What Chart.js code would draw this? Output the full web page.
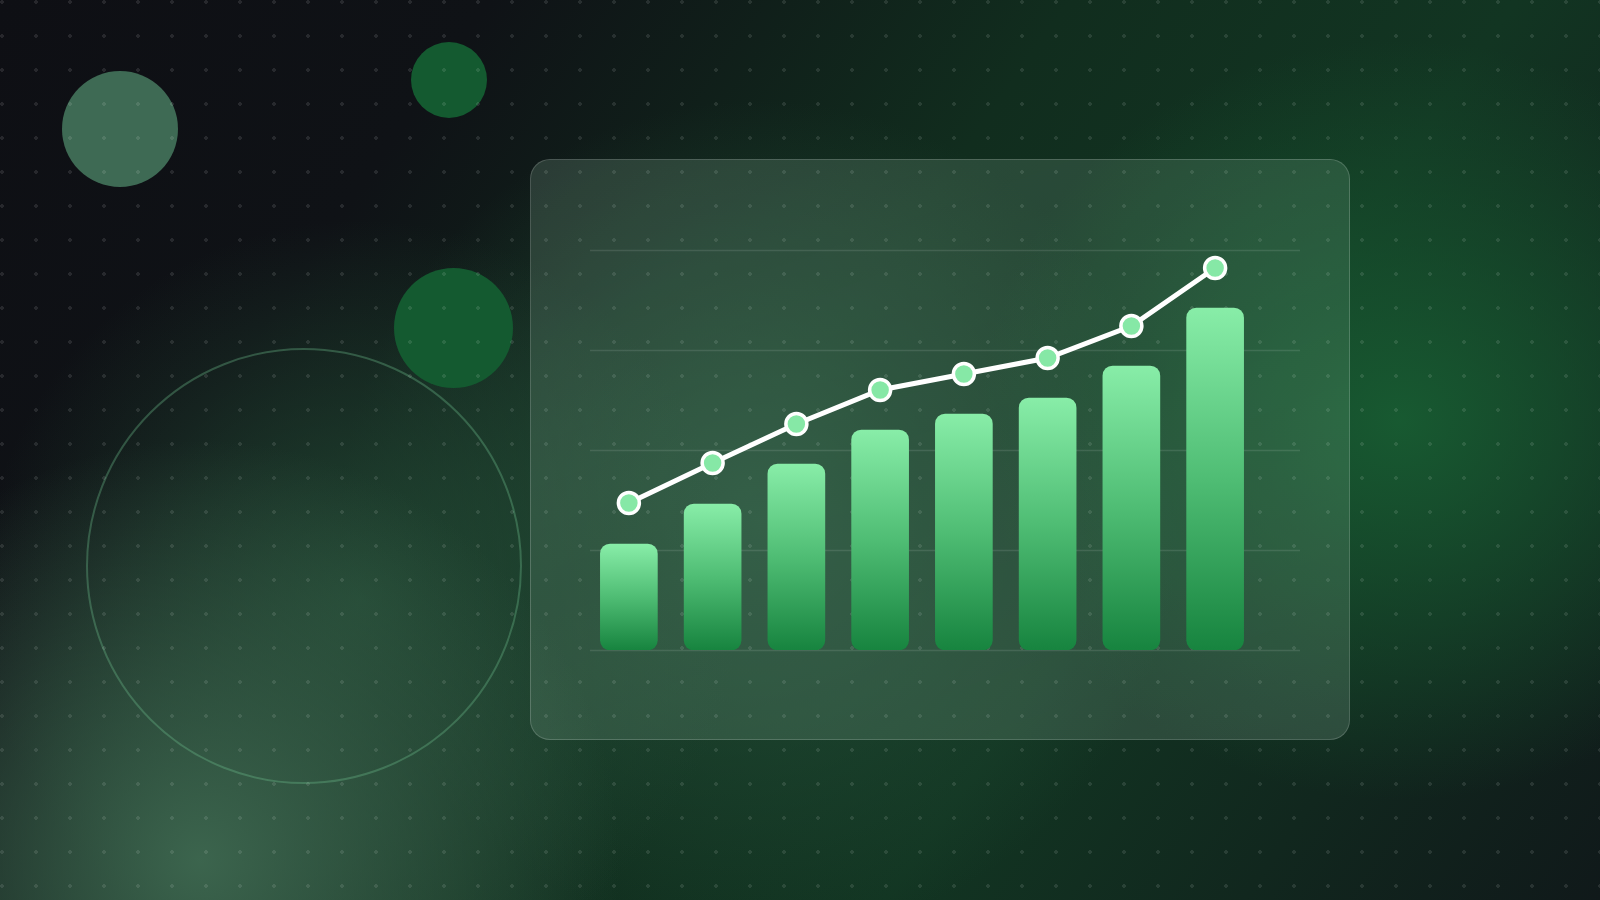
<!DOCTYPE html>
<html>
<head>
<meta charset="utf-8">
<script src="https://cdn.jsdelivr.net/npm/chart.js@4.4.1/dist/chart.umd.min.js"></script>
<style>
    html, body { margin: 0; padding: 0; }
    body {
        width: 1600px; height: 900px; overflow: hidden; position: relative;
        background:
            radial-gradient(ellipse 420px 380px at 1400px 420px, rgba(24,92,50,0.95) 0, rgba(24,92,50,0) 100%),
            radial-gradient(circle at 200px 860px, rgba(62,104,80,0.95) 0, rgba(62,104,80,0) 420px),
            radial-gradient(circle at 360px 600px, rgba(36,76,54,0.85) 0, rgba(36,76,54,0) 380px),
            radial-gradient(circle at 760px 520px, rgba(36,80,56,0.9) 0, rgba(36,80,56,0) 420px),
            linear-gradient(125deg, #0e0f14 0%, #0f1216 22%, #112d1e 48%, #123522 68%, #10191a 100%);
    }
    .blob { position: absolute; border-radius: 50%; }
    .ring { position: absolute; border-radius: 50%; border: 2px solid rgba(110,190,140,0.35); box-sizing: border-box; }
    .dots {
        position: absolute; inset: 0;
        background-image: radial-gradient(circle, rgba(255,255,255,0.1) 1.6px, transparent 2px);
        background-size: 34px 34px;
        background-position: -15px -15px;
    }
    .card {
        position: absolute; left: 530px; top: 159px; width: 820px; height: 581px;
        box-sizing: border-box; border-radius: 20px;
        border: 1.5px solid rgba(255,255,255,0.17);
        background: linear-gradient(160deg, rgba(200,255,220,0.15) 0%, rgba(200,255,220,0.11) 50%, rgba(220,255,235,0.14) 100%);
    }
    #chartBox { position: absolute; left: 530px; top: 159px; width: 820px; height: 581px; }
</style>
</head>
<body>
<div class="blob" style="left:62px;top:71px;width:116px;height:116px;background:#3e6a54;"></div>
<div class="blob" style="left:411px;top:42px;width:76px;height:76px;background:#145a30;"></div>
<div class="blob" style="left:394px;top:268px;width:119px;height:120px;background:#145a30;"></div>
<div class="ring" style="left:86px;top:348px;width:436px;height:436px;"></div>
<div class="dots"></div>
<div class="card"></div>
<div id="chartBox"><canvas id="growthChart"></canvas></div>

<script>
// --- DATA ---
const labels = ['1', '2', '3', '4', '5', '6', '7', '8'];
const barValues = [26.5, 36.5, 46.5, 55, 59, 63, 71, 85.5];
const lineValues = [36.75, 46.75, 56.5, 65, 69, 73, 81, 95.5];
const yTicks = [0, 25, 50, 75, 100];

// per-bar vertical gradient, light mint on top to deep green at the base
function barGradient(ctx) {
    const chart = ctx.chart;
    if (!chart.chartArea || ctx.raw === undefined) return '#4ade80';
    const y = chart.scales.y;
    const top = y.getPixelForValue(ctx.raw);
    const bottom = y.getPixelForValue(0);
    const g = chart.ctx.createLinearGradient(0, top, 0, bottom);
    g.addColorStop(0, '#88eda8');
    g.addColorStop(0.5, '#4fbd74');
    g.addColorStop(1, '#17843f');
    return g;
}

// horizontal guide lines, running a bit past the last bar like the original
const guideLines = {
    id: 'guideLines',
    beforeDatasetsDraw(chart) {
        const { ctx, chartArea, scales } = chart;
        ctx.save();
        ctx.strokeStyle = 'rgba(255,255,255,0.11)';
        ctx.lineWidth = 1.5;
        yTicks.forEach(v => {
            const py = Math.round(scales.y.getPixelForValue(v)) + 0.5;
            ctx.beginPath();
            ctx.moveTo(chartArea.left + 3, py);
            ctx.lineTo(chartArea.right + 43, py);
            ctx.stroke();
        });
        ctx.restore();
    }
};

new Chart(document.getElementById('growthChart'), {
    data: {
        labels: labels,
        datasets: [
            {
                type: 'line',
                data: lineValues,
                borderColor: '#ffffff',
                borderWidth: 5,
                pointRadius: 10.5,
                pointBorderWidth: 3.5,
                pointBackgroundColor: '#86e8a6',
                pointBorderColor: '#ffffff',
                tension: 0,
                clip: false,
                order: 0
            },
            {
                type: 'bar',
                data: barValues,
                backgroundColor: barGradient,
                borderRadius: 10,
                borderSkipped: false,
                barThickness: 57,
                order: 1
            }
        ]
    },
    options: {
        responsive: true,
        maintainAspectRatio: false,
        animation: false,
        layout: { padding: { left: 57, right: 93, top: 91, bottom: 90 } },
        plugins: { legend: { display: false }, tooltip: { enabled: false } },
        scales: {
            x: { display: false },
            y: { display: false, min: 0, max: 100 }
        }
    },
    plugins: [guideLines]
});
</script>
</body>
</html>
